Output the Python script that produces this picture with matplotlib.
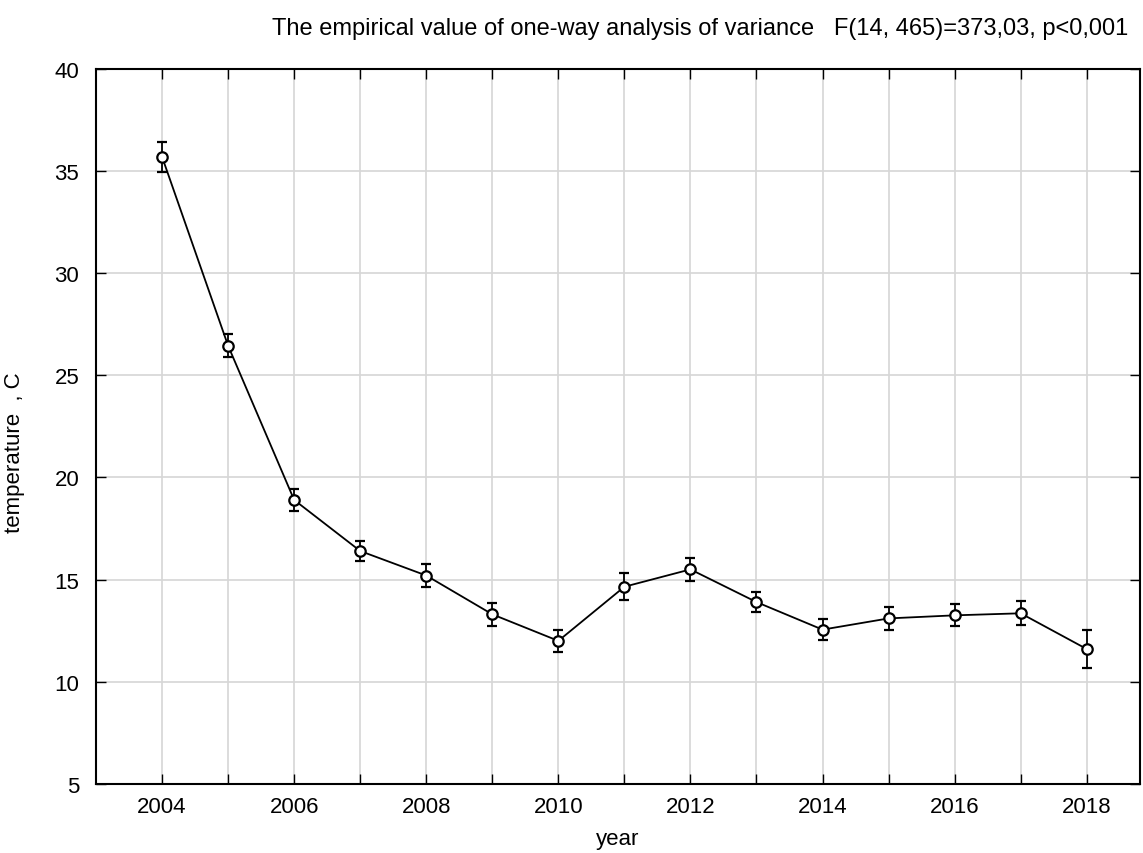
import numpy as np
import matplotlib.pyplot as plt

plt.rcParams['font.family'] = ['Liberation Sans', 'DejaVu Sans']

# mean temperature per year with its confidence half-width
years = [2004, 2005, 2006, 2007, 2008, 2009, 2010, 2011, 2012, 2013, 2014, 2015, 2016, 2017, 2018]
temp_mean = [35.7, 26.45, 18.9, 16.4, 15.2, 13.3, 12.0, 14.65, 15.5, 13.9, 12.55, 13.1, 13.25, 13.35, 11.6]
temp_err = [0.75, 0.57, 0.55, 0.5, 0.58, 0.55, 0.55, 0.65, 0.55, 0.5, 0.5, 0.57, 0.54, 0.58, 0.95]

y_ticks = [5, 10, 15, 20, 25, 30, 35, 40]

fig = plt.figure(figsize=(11.43, 8.54), dpi=100)
ax = fig.add_axes([0.084, 0.081, 0.913, 0.837])

ax.errorbar(years, temp_mean, yerr=temp_err, color='black', lw=1.3,
            marker='o', ms=7.5, mfc='white', mec='black', mew=1.6,
            ecolor='black', elinewidth=1.3, capsize=3.5, capthick=1.3, zorder=3)

ax.set_xlim(2003, 2018.8)
ax.set_ylim(5, 40)
ax.set_xticks(years)
ax.set_xticklabels([str(y) if y % 2 == 0 else '' for y in years])
ax.set_yticks(y_ticks)
ax.grid(True, color='#d6d6d6', lw=1.2)
ax.set_axisbelow(True)
ax.tick_params(direction='in', top=True, right=True, length=7, width=1,
               labelsize=16, pad=9)
ax.tick_params(axis='y', pad=12)
for s in ax.spines.values():
    s.set_linewidth(1.5)

ax.set_xlabel('year', fontsize=16, labelpad=8)
ax.set_ylabel('temperature  , C', fontsize=16)
ax.yaxis.set_label_coords(-0.068, 0.465)

fig.text(0.987, 0.966, 'The empirical value of one-way analysis of variance   '
         'F(14, 465)=373,03, p<0,001', ha='right', va='center', fontsize=17)

fig.savefig('out.png', dpi=100, facecolor='white')
